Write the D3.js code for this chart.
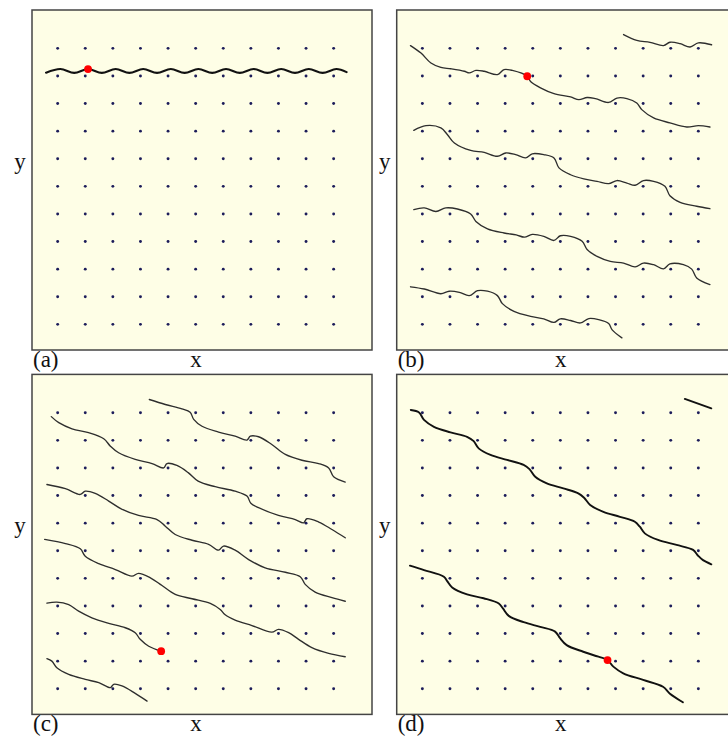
<!DOCTYPE html>
<html>
<head>
<meta charset="utf-8">
<script src="https://cdn.jsdelivr.net/npm/d3@7"></script>
<style>
  html, body { margin: 0; padding: 0; background: #ffffff; }
  svg { display: block; }
  text { font-family: "Liberation Serif", "DejaVu Serif", serif; fill: #111; }
</style>
</head>
<body>
<svg id="chart" width="728" height="738"></svg>
<script>
// Lattice sites (grid units)
const gridX = [0, 1, 2, 3, 4, 5, 6, 7, 8, 9, 10];
const gridY = [0, 1, 2, 3, 4, 5, 6, 7, 8, 9, 10];

// Panel letters
const panelLabels = ["(a)", "(b)", "(c)", "(d)"];

// (a) single horizontal wavy trajectory
const curvesA = [
  [[-0.42, 9.12], [0.1, 9.25], [0.6, 9.11], [1.1, 9.25], [1.6, 9.11], [2.1, 9.25], [2.6, 9.11],
   [3.1, 9.25], [3.6, 9.11], [4.1, 9.25], [4.6, 9.11], [5.1, 9.25], [5.6, 9.11], [6.1, 9.25],
   [6.6, 9.11], [7.1, 9.25], [7.6, 9.11], [8.1, 9.25], [8.6, 9.11], [9.1, 9.25], [9.6, 9.11],
   [10.1, 9.25], [10.47, 9.14]]
];
const markerA = [1.1, 9.25];

// (b) trajectory wrapping with shallow slope
const curvesB = [
  [[7.29, 10.50], [7.77, 10.29], [8.25, 10.22], [8.74, 10.10], [8.97, 10.22], [9.34, 10.17],
   [9.70, 10.05], [10.0, 10.20], [10.48, 10.13]],
  [[-0.43, 10.1], [-0.05, 9.83], [0.31, 9.47], [0.67, 9.31], [1.03, 9.26], [1.52, 9.17],
   [1.70, 9.11], [1.94, 9.20], [2.24, 9.17], [2.72, 9.05], [2.96, 9.23], [3.26, 9.20],
   [3.80, 8.99], [3.92, 8.80], [4.28, 8.57], [4.77, 8.36], [5.37, 8.24], [5.67, 8.14],
   [5.97, 8.22], [6.27, 8.18], [6.75, 8.04], [7.05, 8.20], [7.41, 8.18], [7.77, 8.02],
   [7.95, 7.78], [8.38, 7.48], [8.97, 7.30], [9.58, 7.15], [10.0, 7.2], [10.42, 7.15]],
  [[-0.31, 7.03], [0.13, 7.20], [0.67, 7.12], [0.91, 6.87], [1.16, 6.57], [1.75, 6.30],
   [2.24, 6.23], [2.72, 6.09], [3.02, 6.21], [3.38, 6.15], [3.74, 6.03], [3.98, 6.18],
   [4.40, 6.15], [4.77, 6.03], [4.95, 5.67], [5.37, 5.42], [5.85, 5.27], [6.33, 5.18],
   [6.75, 5.10], [7.05, 5.21], [7.41, 5.12], [7.71, 5.04], [8.01, 5.21], [8.38, 5.18],
   [8.79, 5.0], [8.97, 4.66], [9.34, 4.42], [9.94, 4.28], [10.42, 4.19]],
  [[-0.31, 4.16], [0.07, 4.22], [0.49, 4.09], [0.85, 4.22], [1.27, 4.18], [1.75, 4.0],
   [1.94, 3.73], [2.36, 3.46], [2.96, 3.31], [3.40, 3.24], [3.70, 3.16], [3.98, 3.26],
   [4.40, 3.19], [4.77, 3.04], [5.0, 3.21], [5.37, 3.19], [5.79, 3.01], [5.97, 2.71],
   [6.33, 2.46], [6.81, 2.28], [7.29, 2.22], [7.71, 2.08], [8.01, 2.22], [8.38, 2.16],
   [8.74, 2.01], [8.97, 2.19], [9.46, 2.16], [9.76, 2.0], [9.94, 1.68], [10.42, 1.44]],
  [[-0.43, 1.36], [0.07, 1.28], [0.67, 1.11], [0.97, 1.20], [1.34, 1.16], [1.70, 1.04],
   [2.0, 1.22], [2.36, 1.20], [2.72, 1.04], [2.90, 0.75], [3.32, 0.47], [3.92, 0.29],
   [4.40, 0.20], [4.77, 0.07], [5.0, 0.20], [5.37, 0.14], [5.73, 0.05], [6.03, 0.21],
   [6.39, 0.17], [6.75, 0.03], [6.87, -0.19], [7.23, -0.49]]
];
const markerB = [3.80, 8.99];

// (c) trajectory with steeper slope
const curvesC = [
  [[3.32, 10.48], [3.90, 10.30], [4.50, 10.14], [4.80, 10.02], [4.93, 9.76], [5.23, 9.51],
   [5.83, 9.30], [6.43, 9.15], [6.86, 9.01], [6.98, 9.15], [7.28, 9.13], [7.76, 8.85],
   [8.25, 8.49], [8.85, 8.28], [9.46, 8.16], [9.82, 8.0], [10.0, 7.68], [10.42, 7.49]],
  [[-0.23, 9.86], [0.04, 9.64], [0.52, 9.42], [1.12, 9.28], [1.67, 9.06], [1.91, 8.79],
   [2.21, 8.55], [2.81, 8.31], [3.42, 8.16], [3.84, 8.0], [3.96, 8.16], [4.32, 8.09],
   [4.73, 7.83], [5.09, 7.52], [5.71, 7.32], [6.43, 7.16], [6.86, 6.98], [7.0, 6.72],
   [7.28, 6.56], [8.0, 6.28], [8.61, 6.13], [8.91, 6.01], [9.03, 6.16], [9.46, 6.04],
   [9.94, 5.77], [10.42, 5.47]],
  [[-0.39, 7.40], [0.28, 7.25], [0.82, 7.04], [1.0, 7.16], [1.36, 7.08], [1.85, 6.80],
   [2.30, 6.52], [2.93, 6.28], [3.60, 6.13], [3.90, 5.89], [4.26, 5.59], [4.87, 5.38],
   [5.47, 5.23], [5.83, 5.02], [6.01, 5.17], [6.43, 5.02], [6.92, 4.68], [7.52, 4.38],
   [8.25, 4.22], [8.79, 4.06], [8.97, 3.78], [9.33, 3.50], [9.94, 3.30], [10.42, 3.17]],
  [[-0.47, 5.41], [0.28, 5.26], [0.82, 5.07], [1.0, 4.80], [1.49, 4.53], [2.09, 4.32],
   [2.69, 4.08], [2.93, 4.18], [3.36, 4.02], [3.78, 3.74], [4.26, 3.42], [4.87, 3.26],
   [5.53, 3.09], [5.89, 2.87], [6.07, 2.68], [6.43, 2.49], [7.04, 2.29], [7.76, 2.05],
   [8.0, 2.15], [8.37, 2.03], [8.73, 1.79], [9.21, 1.49], [9.82, 1.28], [10.42, 1.16]],
  [[-0.39, 3.10], [-0.03, 3.14], [0.40, 3.05], [0.76, 2.81], [1.24, 2.57], [1.85, 2.37],
   [2.45, 2.21], [2.81, 2.03], [2.99, 1.79], [3.30, 1.54], [3.75, 1.36]],
  [[-0.39, 1.09], [-0.21, 1.0], [-0.03, 0.76], [0.40, 0.52], [1.0, 0.34], [1.49, 0.22],
   [1.91, 0.04], [2.03, 0.16], [2.33, 0.10], [2.81, -0.17], [3.24, -0.45]]
];
const markerC = [3.75, 1.36];

// (d) two long diagonal branches
const curvesD = [
  [[9.51, 10.50], [10.47, 10.16]],
  [[-0.42, 10.10], [-0.12, 10.01], [0.06, 9.74], [0.42, 9.49], [1.02, 9.29], [1.62, 9.13],
   [1.86, 8.97], [2.04, 8.71], [2.47, 8.47], [3.07, 8.29], [3.67, 8.11], [3.88, 7.96],
   [4.09, 7.68], [4.51, 7.44], [5.11, 7.26], [5.65, 7.08], [5.86, 6.92], [6.08, 6.66],
   [6.56, 6.41], [7.16, 6.23], [7.70, 6.05], [7.88, 5.87], [8.06, 5.63], [8.54, 5.39],
   [9.21, 5.21], [9.81, 5.03], [9.99, 4.82], [10.17, 4.66], [10.47, 4.51]],
  [[-0.45, 4.46], [0.06, 4.30], [0.78, 4.06], [0.90, 3.90], [1.08, 3.67], [1.62, 3.42],
   [2.22, 3.28], [2.77, 3.09], [2.92, 2.91], [3.13, 2.64], [3.67, 2.41], [4.27, 2.24],
   [4.81, 2.07], [4.99, 1.83], [5.23, 1.58], [5.83, 1.34], [6.38, 1.16], [6.71, 1.04],
   [6.92, 0.80], [7.28, 0.56], [8.0, 0.32], [8.72, 0.07], [8.96, -0.17], [9.44, -0.49]]
];
const markerD = [6.71, 1.04];

const panels = [
  { label: panelLabels[0], curves: curvesA, marker: markerA, left: 32,    top: 10,    stroke: "#111", width: 2.1 },
  { label: panelLabels[1], curves: curvesB, marker: markerB, left: 396.7, top: 10,    stroke: "#2e2e2e", width: 1.35 },
  { label: panelLabels[2], curves: curvesC, marker: markerC, left: 32,    top: 374.4, stroke: "#2e2e2e", width: 1.35 },
  { label: panelLabels[3], curves: curvesD, marker: markerD, left: 396.7, top: 374.4, stroke: "#111", width: 1.9 }
];

const size = 340;
const x = d3.scaleLinear().domain([-0.93, 11.39]).range([0, size]);
const y = d3.scaleLinear().domain([-0.93, 11.39]).range([size, 0]);

const line = d3.line()
  .x(d => x(d[0]))
  .y(d => y(d[1]))
  .curve(d3.curveCatmullRom.alpha(0.5));

const svg = d3.select("#chart");

const sites = [];
gridY.forEach(j => gridX.forEach(i => sites.push([i, j])));

panels.forEach(p => {
  const g = svg.append("g").attr("transform", `translate(${p.left},${p.top})`);

  g.append("rect")
    .attr("x", 0).attr("y", 0)
    .attr("width", size).attr("height", size)
    .attr("fill", "#fefee6")
    .attr("stroke", "#444")
    .attr("stroke-width", 1.5);

  const plot = g.append("g");

  plot.selectAll("circle.site")
    .data(sites)
    .join("circle")
    .attr("class", "site")
    .attr("cx", d => x(d[0]))
    .attr("cy", d => y(d[1]))
    .attr("r", 1.45)
    .attr("fill", "#1c1c5a");

  plot.selectAll("path.traj")
    .data(p.curves)
    .join("path")
    .attr("class", "traj")
    .attr("d", line)
    .attr("fill", "none")
    .attr("stroke", p.stroke)
    .attr("stroke-width", p.width)
    .attr("stroke-linejoin", "round")
    .attr("stroke-linecap", "round");

  plot.append("circle")
    .attr("cx", x(p.marker[0]))
    .attr("cy", y(p.marker[1]))
    .attr("r", 3.9)
    .attr("fill", "#ff0000");

  // axis names and panel letter
  g.append("text")
    .attr("x", -12).attr("y", size / 2 - 11)
    .attr("text-anchor", "middle")
    .attr("font-size", 23)
    .text("y");

  g.append("text")
    .attr("x", size / 2 - 6).attr("y", size + 17)
    .attr("text-anchor", "middle")
    .attr("font-size", 23)
    .text("x");

  g.append("text")
    .attr("x", 1).attr("y", size + 17)
    .attr("text-anchor", "start")
    .attr("font-size", 23)
    .text(p.label);
});
</script>
</body>
</html>
